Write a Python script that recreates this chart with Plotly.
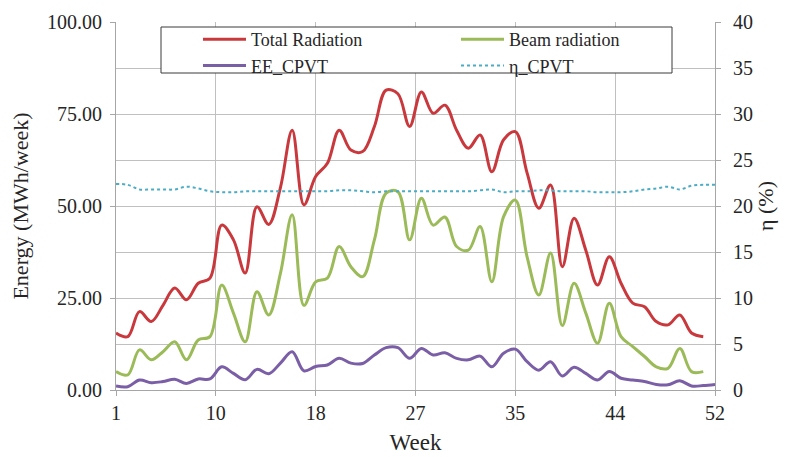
import plotly.graph_objects as go

weeks = list(range(1, 53))

total_radiation = [15.5, 14.5, 21.3, 18.6, 23.0, 27.7, 24.5, 29.0, 30.4, 44.8,
                   40.8, 31.8, 49.8, 45.0, 55.0, 70.6, 50.3, 58.0, 61.6, 70.6,
                   65.2, 64.8, 71.6, 81.5, 80.5, 71.6, 81.0, 75.2, 77.4, 70.6,
                   65.7, 69.3, 59.3, 68.0, 70.2, 59.0, 49.4, 55.7, 33.5, 46.7,
                   38.0, 28.5, 36.2, 29.0, 23.6, 22.6, 18.6, 17.7, 20.4, 15.5,
                   14.5, None]

beam_radiation = [5.0, 4.1, 10.9, 8.2, 10.4, 13.1, 8.2, 13.6, 14.5, 28.5,
                  20.9, 13.1, 26.7, 20.4, 31.7, 47.6, 23.0, 29.4, 30.4, 39.0,
                  33.5, 30.8, 40.8, 53.5, 53.9, 40.8, 52.1, 44.8, 47.0, 39.0,
                  38.0, 44.4, 29.4, 47.1, 51.6, 36.2, 25.8, 37.2, 17.5, 29.0,
                  20.9, 12.7, 23.6, 14.5, 11.8, 9.1, 6.3, 5.9, 11.3, 5.0,
                  5.0, None]

ee_cpvt = [1.1, 0.9, 2.7, 2.0, 2.3, 2.9, 1.8, 3.0, 3.0, 6.3,
           4.5, 2.8, 5.6, 4.4, 7.3, 10.4, 5.2, 6.4, 6.8, 8.6,
           7.3, 7.2, 9.5, 11.5, 11.5, 8.6, 11.3, 9.5, 10.1, 8.6,
           8.2, 9.2, 6.3, 10.0, 11.1, 7.7, 5.4, 7.7, 3.8, 6.2,
           4.5, 2.7, 5.0, 3.2, 2.7, 2.3, 1.5, 1.4, 2.5, 1.1,
           1.2, 1.5]

eta_cpvt = [22.4, 22.3, 21.8, 21.8, 21.8, 21.8, 22.1, 21.9, 21.6, 21.5,
            21.5, 21.6, 21.6, 21.6, 21.6, 21.6, 21.6, 21.6, 21.6, 21.7,
            21.7, 21.6, 21.5, 21.6, 21.6, 21.6, 21.6, 21.6, 21.6, 21.6,
            21.6, 21.7, 21.8, 21.5, 21.6, 21.6, 21.7, 21.7, 21.6, 21.6,
            21.6, 21.5, 21.5, 21.5, 21.6, 21.8, 21.9, 22.1, 21.8, 22.2,
            22.3, 22.3]

x_tickvals = [1, 9.5, 18, 26.5, 35, 43.5, 52]
x_ticktext = ["1", "10", "18", "27", "35", "44", "52"]
y_tickvals = [0, 25, 50, 75, 100]

FONT = "Liberation Serif, DejaVu Serif, serif"
TXT = "#262626"
GRID = "#c0c0c0"
AXL = "#a6a6a6"

fig = go.Figure()
fig.add_trace(go.Scatter(x=weeks, y=total_radiation, name="Total Radiation",
                         mode="lines", line=dict(color="#c8383c", width=3, shape="spline")))
fig.add_trace(go.Scatter(x=weeks, y=beam_radiation, name="Beam radiation",
                         mode="lines", line=dict(color="#9bbb59", width=3, shape="spline")))
fig.add_trace(go.Scatter(x=weeks, y=ee_cpvt, name="EE_CPVT",
                         mode="lines", line=dict(color="#7a5ea6", width=3, shape="spline")))
fig.add_trace(go.Scatter(x=weeks, y=eta_cpvt, name="η_CPVT", yaxis="y2",
                         mode="lines", line=dict(color="#4bacc6", width=2, dash="dot", shape="spline")))

fig.update_layout(
    width=800, height=457,
    margin=dict(l=116, r=85, t=22, b=67),
    paper_bgcolor="white", plot_bgcolor="white",
    font=dict(family=FONT, size=20, color=TXT),
    xaxis=dict(range=[1, 52], tickmode="array", tickvals=x_tickvals, ticktext=x_ticktext,
               showgrid=True, gridcolor=GRID, gridwidth=1, zeroline=False,
               showline=True, linecolor=AXL, ticks="outside", ticklen=5, tickcolor=AXL,
               tickfont=dict(size=20), automargin=False,
               title=dict(text="Week", font=dict(size=23), standoff=10)),
    yaxis=dict(range=[0, 100], tickmode="array", tickvals=y_tickvals, tickformat=".2f",
               showgrid=False, zeroline=False, showline=True, linecolor=AXL,
               ticks="outside", ticklen=5, tickcolor=AXL, ticklabelstandoff=4,
               tickfont=dict(size=20), automargin=False,
               title=dict(text="Energy (MWh/week)", font=dict(size=22), standoff=12)),
    yaxis2=dict(range=[0, 40], dtick=5, overlaying="y", side="right",
                showgrid=True, gridcolor=GRID, gridwidth=1, zeroline=False,
                showline=True, linecolor=AXL, ticks="outside", ticklen=5, tickcolor=AXL,
                ticklabelstandoff=8, tickfont=dict(size=20), automargin=False,
                title=dict(text="η (%)", font=dict(size=22), standoff=3)),
    legend=dict(orientation="h", x=(198 - 116) / 599, y=(390 - 21) / 368,
                xanchor="left", yanchor="top", bgcolor="rgba(0,0,0,0)",
                borderwidth=0, entrywidth=200, itemwidth=43,
                tracegroupgap=0,
                font=dict(family=FONT, size=18, color=TXT), traceorder="normal"),
    shapes=[dict(type="rect", xref="paper", yref="paper",
                 x0=(161 - 116) / 599, x1=(672 - 116) / 599,
                 y0=(390 - 73) / 368, y1=(390 - 27) / 368,
                 fillcolor="white", line=dict(color="#3a3a3a", width=1), layer="above")],
)

fig.write_html("out.html")
